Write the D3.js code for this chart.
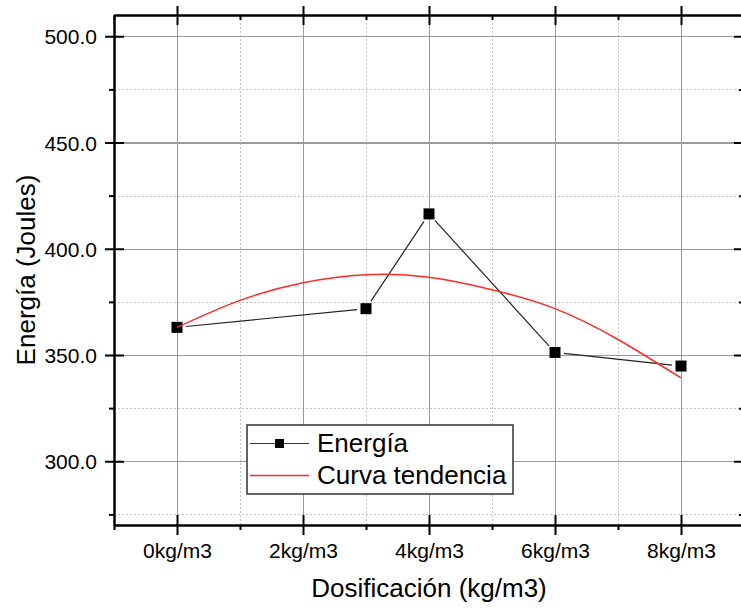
<!DOCTYPE html>
<html>
<head>
<meta charset="utf-8">
<script src="https://cdn.jsdelivr.net/npm/d3@7"></script>
<style>
  body { margin: 0; background: #fff; }
  svg { display: block; font-family: Arial, "Liberation Sans", sans-serif; }
  .grid line { shape-rendering: crispEdges; }
  .grid .domain { display: none; }
  .axis .domain { stroke: #000; stroke-width: 2; }
  .axis line { stroke: #000; stroke-width: 2; }
</style>
</head>
<body>
<div id="graph"></div>
<script>
// dosificación (kg/m3) y energía medida
const doses = [0, 3, 4, 6, 8]
const energia = [363, 371.8, 416.4, 351.2, 344.8]

// curva de tendencia
const trendDoses = [0, 1, 2, 3, 4, 5, 6, 7, 8]
const trendEnergia = [363, 375.7, 384, 387.8, 386.6, 380.7, 371.8, 357.3, 339.2]

const xMajor = [0, 2, 4, 6, 8]
const xMinor = [-1, 1, 3, 5, 7, 9]
const xTickLabels = ["0kg/m3", "2kg/m3", "4kg/m3", "6kg/m3", "8kg/m3"]
const yMajor = [300, 350, 400, 450, 500]
const yMinor = [275, 325, 375, 425, 475]

const W = 741, H = 608
const margin = { top: 15, right: -3, bottom: 83, left: 114 }
const width = W - margin.left - margin.right
const height = H - margin.top - margin.bottom

const svg = d3.select("#graph").append("svg")
  .attr("width", W)
  .attr("height", H)

const g = svg.append("g")
  .attr("transform", "translate(" + margin.left + "," + margin.top + ")")

const x = d3.scaleLinear().domain([-1, 9]).range([0, width])
const y = d3.scaleLinear().domain([270, 510]).range([height, 0])

// minor grid (dotted)
g.append("g").attr("class", "grid")
  .call(d3.axisBottom(x).tickValues(xMinor.filter(d => d > -1 && d < 9)).tickSize(height).tickFormat(""))
  .selectAll("line").attr("stroke", "#c4c4c4").attr("stroke-dasharray", "2,2")
g.append("g").attr("class", "grid")
  .call(d3.axisLeft(y).tickValues(yMinor).tickSize(-width).tickFormat(""))
  .selectAll("line").attr("stroke", "#c4c4c4").attr("stroke-dasharray", "2,2")

// major grid
g.append("g").attr("class", "grid")
  .call(d3.axisBottom(x).tickValues(xMajor).tickSize(height).tickFormat(""))
  .selectAll("line").attr("stroke", "#9a9a9a").attr("stroke-width", 1.2)
g.append("g").attr("class", "grid")
  .call(d3.axisLeft(y).tickValues(yMajor).tickSize(-width).tickFormat(""))
  .selectAll("line").attr("stroke", "#9a9a9a").attr("stroke-width", 1.2)

// axes: major ticks cross the frame, minor ticks are short
const bottomAxis = g.append("g").attr("class", "axis")
  .attr("transform", "translate(0," + height + ")")
  .call(d3.axisBottom(x).tickValues(xMajor).tickSizeOuter(0)
    .tickFormat((d, i) => xTickLabels[i]))
bottomAxis.selectAll(".tick line").attr("y1", -10).attr("y2", 10)
bottomAxis.selectAll(".tick text")
  .attr("y", 33).attr("dy", 0)
  .style("font-size", "21px").attr("fill", "#000")
g.append("g").attr("class", "axis")
  .attr("transform", "translate(0," + height + ")")
  .call(d3.axisBottom(x).tickValues(xMinor).tickSize(5).tickFormat("").tickSizeOuter(0))

const leftAxis = g.append("g").attr("class", "axis")
  .call(d3.axisLeft(y).tickValues(yMajor).tickSizeOuter(0).tickFormat(d3.format(".1f")))
leftAxis.selectAll(".tick line").attr("x1", 10).attr("x2", -9)
leftAxis.selectAll(".tick text")
  .attr("x", -17).attr("dy", "0.36em")
  .style("font-size", "21px").attr("fill", "#000")
g.append("g").attr("class", "axis")
  .call(d3.axisLeft(y).tickValues(yMinor).tickSize(5).tickFormat("").tickSizeOuter(0))

const topAxis = g.append("g").attr("class", "axis")
  .call(d3.axisTop(x).tickValues(xMajor).tickSizeOuter(0).tickFormat(""))
topAxis.selectAll(".tick line").attr("y1", 10).attr("y2", -9)
g.append("g").attr("class", "axis")
  .call(d3.axisTop(x).tickValues(xMinor).tickSize(-5).tickFormat("").tickSizeOuter(0))

const rightAxis = g.append("g").attr("class", "axis")
  .attr("transform", "translate(" + width + ",0)")
  .call(d3.axisRight(y).tickValues(yMajor).tickSizeOuter(0).tickFormat(""))
rightAxis.selectAll(".tick line").attr("x1", -10).attr("x2", 9)
g.append("g").attr("class", "axis")
  .attr("transform", "translate(" + width + ",0)")
  .call(d3.axisRight(y).tickValues(yMinor).tickSize(-5).tickFormat("").tickSizeOuter(0))

// energía: segments stop short of the markers
const gap = 9
const pts = doses.map((d, i) => [x(d), y(energia[i])])
const segs = d3.pairs(pts).map(([a, b]) => {
  const dx = b[0] - a[0], dy = b[1] - a[1]
  const len = Math.hypot(dx, dy)
  const ux = dx / len, uy = dy / len
  return [a[0] + ux * gap, a[1] + uy * gap, b[0] - ux * gap, b[1] - uy * gap]
})
g.selectAll(".seg")
  .data(segs)
  .enter()
  .append("line")
  .attr("class", "seg")
  .attr("x1", d => d[0]).attr("y1", d => d[1])
  .attr("x2", d => d[2]).attr("y2", d => d[3])
  .attr("stroke", "#222")
  .attr("stroke-width", 1.2)

const ms = 11
g.selectAll(".pt")
  .data(doses)
  .enter()
  .append("rect")
  .attr("class", "pt")
  .attr("x", d => x(d) - ms / 2)
  .attr("y", (d, i) => y(energia[i]) - ms / 2)
  .attr("width", ms)
  .attr("height", ms)
  .attr("fill", "#000")

// curva de tendencia
const trend = d3.line()
  .x(d => x(d))
  .y((d, i) => y(trendEnergia[i]))
  .curve(d3.curveNatural)
g.append("path")
  .datum(trendDoses)
  .attr("d", trend)
  .attr("fill", "none")
  .attr("stroke", "#ff2a2a")
  .attr("stroke-width", 1.5)

// legend
const legend = svg.append("g").attr("transform", "translate(247,425)")
legend.append("rect")
  .attr("width", 266).attr("height", 69)
  .attr("fill", "#fff").attr("stroke", "#333").attr("stroke-width", 1.5)
legend.append("line")
  .attr("x1", 3).attr("x2", 62).attr("y1", 18.5).attr("y2", 18.5)
  .attr("stroke", "#333").attr("stroke-width", 1.2)
legend.append("rect")
  .attr("x", 28).attr("y", 14).attr("width", 9).attr("height", 9).attr("fill", "#000")
legend.append("line")
  .attr("x1", 3).attr("x2", 62).attr("y1", 50.5).attr("y2", 50.5)
  .attr("stroke", "#ff2a2a").attr("stroke-width", 1.5)
legend.append("text")
  .attr("x", 70).attr("y", 27)
  .style("font-size", "26px")
  .text("Energía")
legend.append("text")
  .attr("x", 70).attr("y", 59)
  .style("font-size", "26px")
  .text("Curva tendencia")

// axis titles
svg.append("text")
  .attr("x", margin.left + x(4))
  .attr("y", 597)
  .attr("text-anchor", "middle")
  .style("font-size", "26px")
  .text("Dosificación (kg/m3)")

svg.append("text")
  .attr("transform", "translate(35," + (margin.top + height / 2) + ") rotate(-90)")
  .attr("text-anchor", "middle")
  .style("font-size", "26px")
  .text("Energía (Joules)")
</script>
</body>
</html>
